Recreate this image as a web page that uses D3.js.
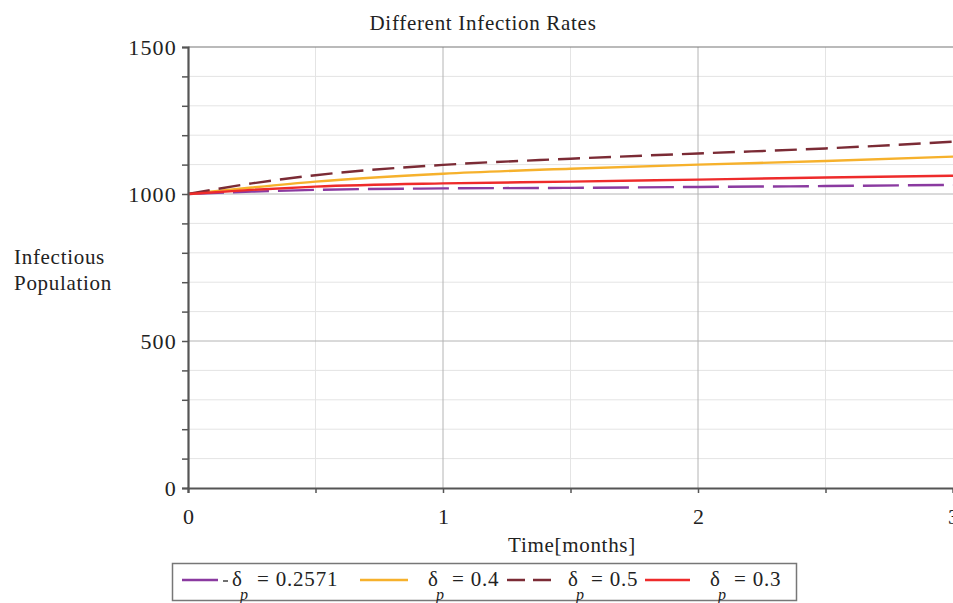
<!DOCTYPE html>
<html><head><meta charset="utf-8">
<script src="https://cdn.jsdelivr.net/npm/d3@7"></script>
<style>body{margin:0;background:#fff;overflow:hidden}svg{display:block}</style>
</head><body>
<script>
const times = [0, 0.25, 0.5, 1, 1.5, 2, 2.5, 3];
const s02571 = [1000, 1008, 1014, 1019, 1021, 1024, 1027, 1031];
const s04 = [1000, 1022, 1042, 1069, 1086, 1100, 1112, 1127];
const s05 = [1000, 1036, 1064, 1099, 1120, 1138, 1155, 1178];
const s03 = [1000, 1014, 1025, 1036, 1042, 1049, 1056, 1062];
const seriesNames = ["0.2571", "0.4", "0.5", "0.3"];
const yTickLabels = [0, 500, 1000, 1500];
const xTickLabels = [0, 1, 2, 3];

const series = [
  {name: seriesNames[0], vals: s02571, color: "#8a3aa0", dash: "36,9"},
  {name: seriesNames[1], vals: s04, color: "#f6b12c", dash: null},
  {name: seriesNames[2], vals: s05, color: "#7b2b35", dash: "22,9"},
  {name: seriesNames[3], vals: s03, color: "#ee2b2b", dash: null}
];

const W = 953, H = 603;
const svg = d3.select("body").append("svg").attr("width", W).attr("height", H);
const x = d3.scaleLinear().domain([0, 3]).range([188, 953]);
const y = d3.scaleLinear().domain([0, 1500]).range([488, 47]);
const font = "'Liberation Serif', 'Times New Roman', serif";

// grid
const g = svg.append("g");
g.selectAll(".hminor").data(d3.range(100, 1501, 100).filter(v => v % 500)).join("line")
  .attr("x1", 188).attr("x2", W).attr("y1", d => y(d)).attr("y2", d => y(d))
  .attr("stroke", "#e4e4e4").attr("stroke-width", 1);
g.selectAll(".vminor").data([0.5, 1.5, 2.5]).join("line")
  .attr("y1", 47).attr("y2", 488).attr("x1", d => x(d)).attr("x2", d => x(d))
  .attr("stroke", "#e4e4e4").attr("stroke-width", 1);
g.selectAll(".hmajor").data([500, 1000]).join("line")
  .attr("x1", 188).attr("x2", W).attr("y1", d => y(d)).attr("y2", d => y(d))
  .attr("stroke", "#b4b4b4").attr("stroke-width", 1);
g.selectAll(".vmajor").data([1, 2]).join("line")
  .attr("y1", 47).attr("y2", 488).attr("x1", d => x(d)).attr("x2", d => x(d))
  .attr("stroke", "#b4b4b4").attr("stroke-width", 1);
g.append("line").attr("x1", 188).attr("x2", W).attr("y1", y(1500)).attr("y2", y(1500))
  .attr("stroke", "#777").attr("stroke-width", 1.2);

// lines
const line = d3.line().x((d, i) => x(times[i])).y(d => y(d)).curve(d3.curveMonotoneX);
svg.append("g").selectAll("path").data(series).join("path")
  .attr("d", d => line(d.vals)).attr("fill", "none")
  .attr("stroke", d => d.color).attr("stroke-width", 2.4)
  .attr("stroke-dasharray", d => d.dash);

// axes
const yAxis = d3.axisLeft(y).tickValues(d3.range(0, 1501, 100)).tickSize(6)
  .tickFormat(d => yTickLabels.includes(d) ? d : "");
const ya = svg.append("g").attr("transform", "translate(188,0)").call(yAxis);
ya.select(".domain").attr("stroke", "#555").attr("stroke-width", 2.2);
ya.selectAll(".tick line").attr("stroke", "#555").attr("stroke-width", 1.5).attr("x2", -6);
ya.selectAll(".tick text").attr("font-family", font).attr("font-size", 22).attr("letter-spacing", 1.2)
  .attr("fill", "#222").attr("x", -11).attr("dy", "0.36em");

const xAxis = d3.axisBottom(x).tickValues([0, 0.5, 1, 1.5, 2, 2.5, 3]).tickSize(5)
  .tickFormat(d => xTickLabels.includes(d) ? d : "");
const xa = svg.append("g").attr("transform", "translate(0,488)").call(xAxis);
xa.select(".domain").attr("stroke", "#555").attr("stroke-width", 2.2);
xa.selectAll(".tick line").attr("stroke", "#555").attr("stroke-width", 1.5);
xa.selectAll(".tick text").attr("font-family", font).attr("font-size", 22)
  .attr("fill", "#222").attr("y", 20);

// titles
svg.append("text").attr("x", 483).attr("y", 30).attr("text-anchor", "middle")
  .attr("font-family", font).attr("font-size", 21).attr("letter-spacing", 0.7)
  .attr("fill", "#222").text("Different Infection Rates");
svg.append("text").attr("x", 572).attr("y", 552).attr("text-anchor", "middle")
  .attr("font-family", font).attr("font-size", 21).attr("letter-spacing", 0.7)
  .attr("fill", "#222").text("Time[months]");
const yl = svg.append("text").attr("font-family", font).attr("font-size", 21)
  .attr("letter-spacing", 0.7).attr("fill", "#222");
yl.append("tspan").attr("x", 14).attr("y", 264).text("Infectious");
yl.append("tspan").attr("x", 14).attr("y", 290).text("Population");

// legend
svg.append("rect").attr("x", 172.5).attr("y", 563.5).attr("width", 624).attr("height", 37)
  .attr("fill", "#fff").attr("stroke", "#777").attr("stroke-width", 1.5);
const lineX = [[182, 218], [360, 408], [507, 552], [645, 690]];
const deltaX = [232, 428, 568, 710];
const eqX = [257, 452, 591, 734];
const lg = svg.append("g").selectAll("g").data(series).join("g");
lg.append("line").attr("x1", (d, i) => lineX[i][0]).attr("x2", (d, i) => lineX[i][1])
  .attr("y1", 580).attr("y2", 580)
  .attr("stroke", d => d.color).attr("stroke-width", 2.4)
  .attr("stroke-dasharray", (d, i) => i === 2 ? "18,8" : null);
lg.filter((d, i) => i === 0).append("line").attr("x1", 223).attr("x2", 228).attr("y1", 581).attr("y2", 581)
  .attr("stroke", "#333").attr("stroke-width", 1.4);
lg.append("text").attr("font-family", font).attr("font-size", 21).attr("fill", "#222")
  .attr("x", (d, i) => deltaX[i]).attr("y", 586).text("δ");
lg.append("text").attr("font-family", font).attr("font-size", 16).attr("font-style", "italic").attr("fill", "#222")
  .attr("x", (d, i) => deltaX[i] + 8).attr("y", 600).text("p");
lg.append("text").attr("font-family", font).attr("font-size", 21).attr("letter-spacing", 0.8).attr("fill", "#222")
  .attr("x", (d, i) => eqX[i]).attr("y", 586)
  .text(d => "= " + d.name);
</script>
</body></html>
